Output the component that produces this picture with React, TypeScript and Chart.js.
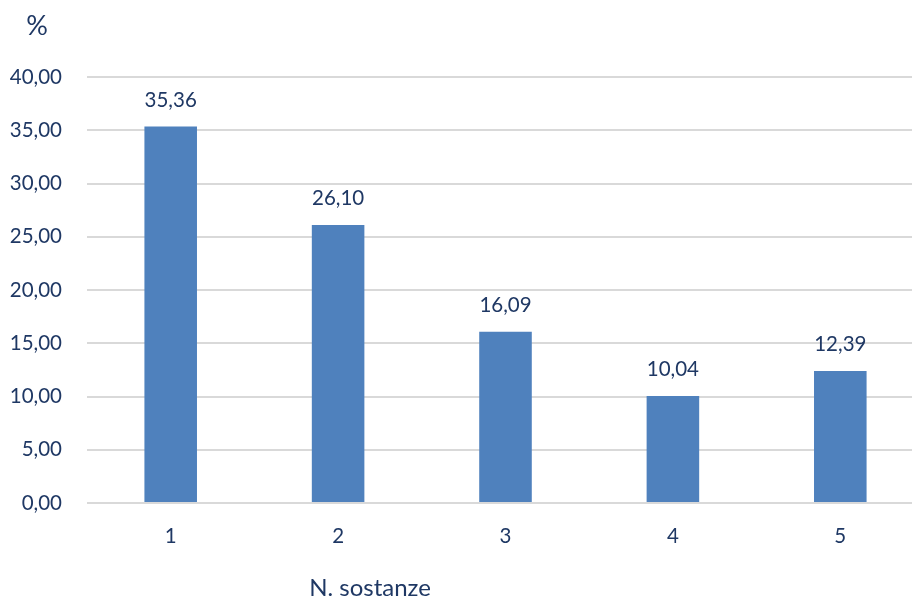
import React, { useEffect, useRef } from "react";
import { Chart, registerables } from "chart.js";

Chart.register(...registerables);

const categories = ["1", "2", "3", "4", "5"];
const values = [35.36, 26.1, 16.09, 10.04, 12.39];
const yTicks = [0, 5, 10, 15, 20, 25, 30, 35, 40];
const yAxisUnit = "%";
const xAxisTitle = "N. sostanze";

const TEXT = "#1F3864";
const BAR = "#4F81BD";
const FONT = "Lato";

const fmt = (v: number) => v.toFixed(2).replace(".", ",");

export default function App() {
  const ref = useRef<HTMLCanvasElement | null>(null);

  useEffect(() => {
    if (!ref.current) return;
    const labelsPlugin = {
      id: "extras",
      afterDatasetsDraw(chart: any) {
        const ctx = chart.ctx;
        ctx.save();
        ctx.fillStyle = TEXT;
        ctx.font = `20.5px ${FONT}`;
        ctx.textAlign = "center";
        ctx.textBaseline = "bottom";
        const meta = chart.getDatasetMeta(0);
        meta.data.forEach((bar: any, i: number) => {
          ctx.fillText(fmt(values[i]), bar.x, bar.y - 16);
        });
        ctx.font = `27px ${FONT}`;
        ctx.textBaseline = "middle";
        ctx.fillText(yAxisUnit, 37, 26);
        ctx.font = `24px ${FONT}`;
        ctx.fillText(xAxisTitle, 370, 588);
        ctx.restore();
      },
    };
    const chart = new Chart(ref.current, {
      type: "bar",
      data: {
        labels: categories,
        datasets: [
          {
            data: values,
            backgroundColor: BAR,
            categoryPercentage: 1,
            barPercentage: 0.314,
          },
        ],
      },
      options: {
        animation: false,
        responsive: false,
        maintainAspectRatio: false,
        layout: { padding: { left: 0, right: 6, top: 77, bottom: 0 } },
        plugins: { legend: { display: false }, tooltip: { enabled: false } },
        scales: {
          x: {
            grid: { display: false, drawTicks: false },
            border: { display: false },
            ticks: { color: TEXT, font: { family: FONT, size: 20.5 }, padding: 21 },
            afterFit: (s: any) => {
              s.height = 97;
            },
          },
          y: {
            min: 0,
            max: 40,
            afterBuildTicks: (s: any) => {
              s.ticks = yTicks.map((v) => ({ value: v }));
            },
            grid: { color: "#D9D9D9", lineWidth: 2, drawTicks: false },
            border: { display: false },
            ticks: {
              color: TEXT,
              font: { family: FONT, size: 20.5 },
              padding: 25,
              callback: (v: any) => fmt(Number(v)),
            },
            afterFit: (s: any) => {
              s.width = 87;
            },
          },
        },
      },
      plugins: [labelsPlugin],
    });
    return () => chart.destroy();
  }, []);

  return (
    <div
      style={{
        position: "fixed",
        left: 0,
        top: 0,
        width: 912,
        height: 600,
        overflow: "hidden",
        background: "#fff",
      }}
    >
      <canvas ref={ref} width={930} height={600} style={{ width: 930, height: 600 }} />
    </div>
  );
}
